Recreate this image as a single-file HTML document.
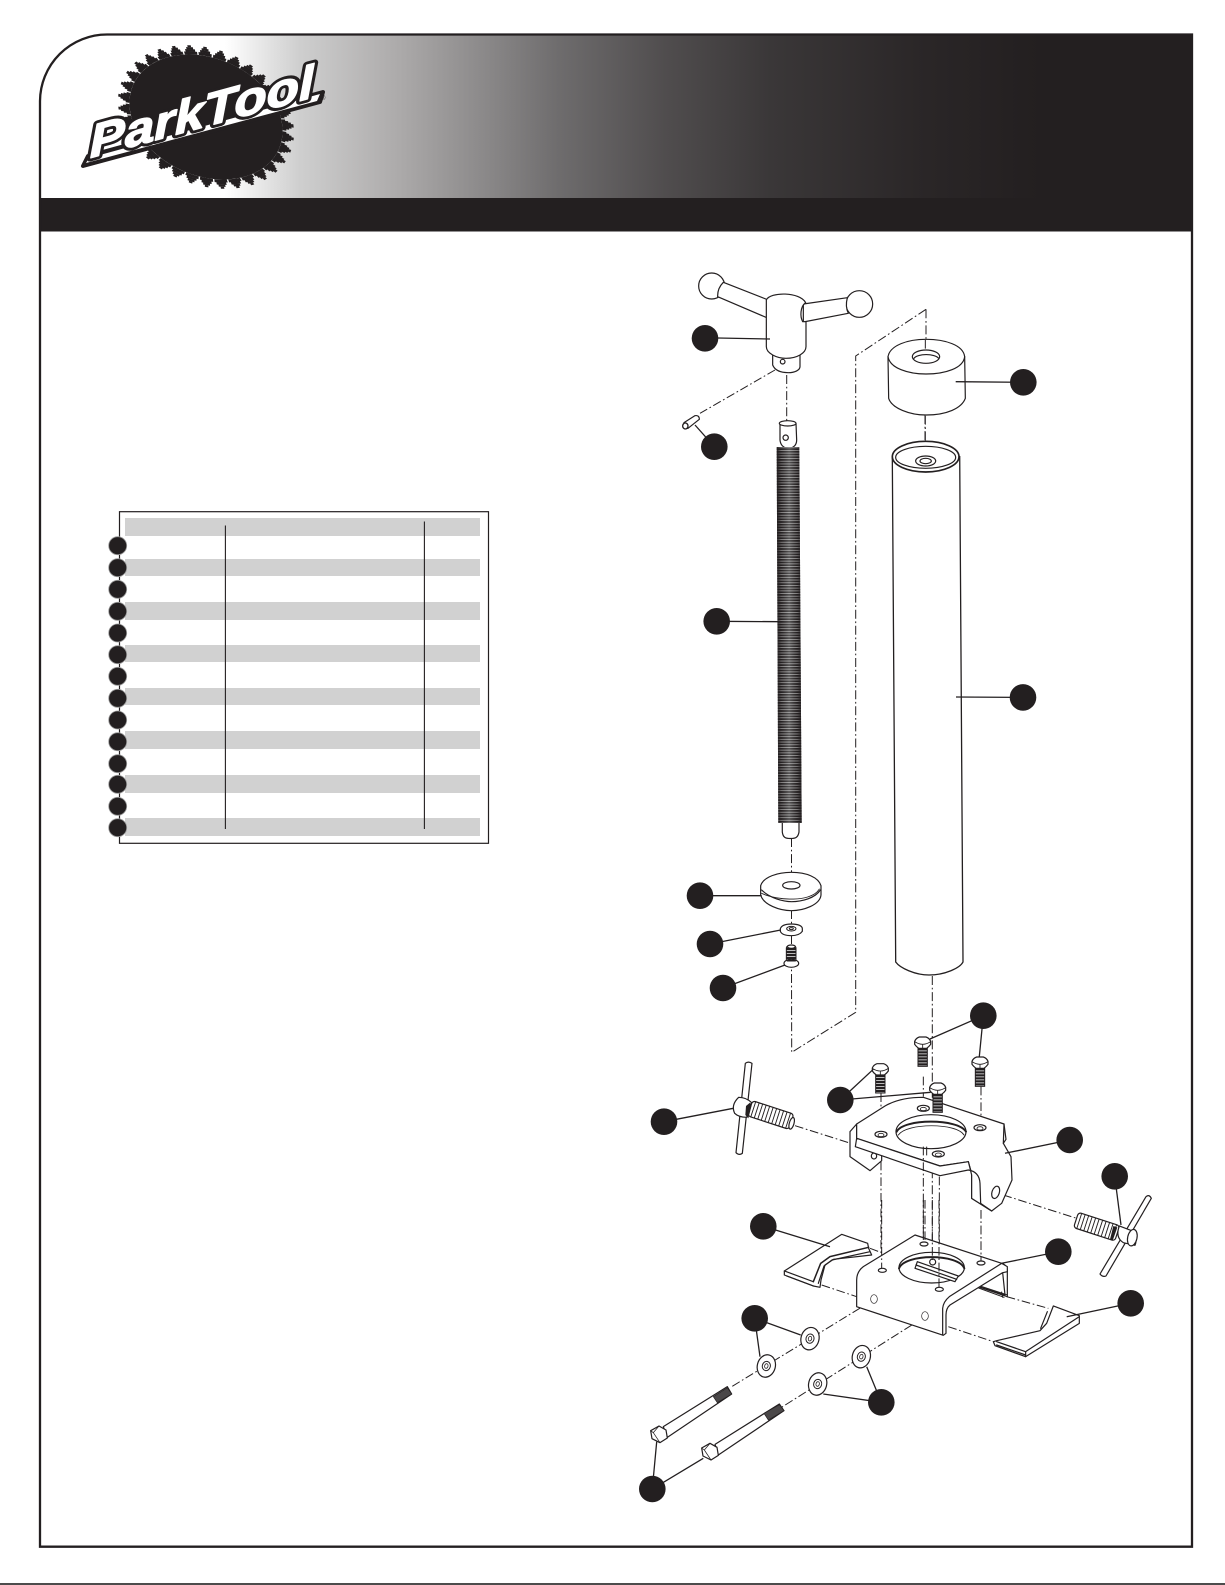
<!DOCTYPE html>
<html><head><meta charset="utf-8"><title>Park Tool exploded diagram</title>
<style>
html,body{margin:0;padding:0;background:#fff;width:1225px;height:1585px;overflow:hidden}
svg{display:block}
.o{fill:#fff;stroke:#231f20;stroke-width:3.6;stroke-linejoin:round;stroke-linecap:round}
.n{fill:none;stroke:#231f20;stroke-width:3.6;stroke-linejoin:round;stroke-linecap:round}
.d{fill:none;stroke:#231f20;stroke-width:3;stroke-dasharray:26 8 5 8}
.l{fill:none;stroke:#231f20;stroke-width:1.3}
.c{fill:#231f20}
.t{fill:url(#h);stroke:#231f20;stroke-width:3}
.lt{font-family:"Liberation Sans",sans-serif;font-weight:bold;font-style:italic;font-size:45px}
</style></head><body>
<svg xmlns="http://www.w3.org/2000/svg" width="1225" height="1585" viewBox="0 0 1225 1585">
<defs>
<linearGradient id="g" gradientUnits="userSpaceOnUse" x1="225" y1="0" x2="1040" y2="0">
<stop offset="0" stop-color="#fff"/><stop offset=".09" stop-color="#cfcfcf"/><stop offset=".21" stop-color="#adabab"/><stop offset=".41" stop-color="#6e6c6d"/><stop offset=".54" stop-color="#504d4e"/><stop offset=".67" stop-color="#3a3738"/><stop offset=".86" stop-color="#2a2627"/><stop offset="1" stop-color="#231f20"/>
</linearGradient>
<linearGradient id="e"><stop offset="0" stop-color="#231f20"/><stop offset=".18" stop-color="#231f20" stop-opacity=".55"/><stop offset=".5" stop-color="#777" stop-opacity=".6"/><stop offset=".82" stop-color="#231f20" stop-opacity=".55"/><stop offset="1" stop-color="#231f20"/></linearGradient>
<pattern id="t" patternUnits="userSpaceOnUse" width="10" height="2.7"><rect width="10" height="1.8" fill="#231f20"/><rect y="1.8" width="10" height=".9" fill="#fff"/></pattern>
<pattern id="h" patternUnits="userSpaceOnUse" width="10" height="9"><rect width="10" height="6" fill="#231f20"/><rect y="6" width="10" height="3" fill="#bbb"/></pattern>
<g id="bolt"><rect class="t" x="-14" y="14" width="28" height="58"/><path class="o" d="M-24,-3 Q-20,-13 -10,-16 H10 Q20,-13 24,-3 V6 Q20,12 12,18 H-12 Q-20,12 -24,6 Z"/><path class="n" style="stroke-width:2.6" d="M-24,-2 Q-12,6 0,6 Q12,6 24,-2 M0,6 V18"/></g>
<g id="thr"><rect class="o" x="-65" y="-24" width="130" height="48" rx="9"/><path class="n" style="stroke-width:2.8" d="M-55,-24V24M-44,-24V24M-33,-24V24M-22,-24V24M-11,-24V24M0,-24V24M11,-24V24M22,-24V24M33,-24V24M44,-24V24M55,-24V24"/></g>
<g id="w"><ellipse class="o" rx="27" ry="34" transform="rotate(15)"/><ellipse class="n" style="stroke-width:3" rx="12" ry="14" transform="rotate(15)"/><ellipse class="n" style="stroke-width:2.4" rx="5" ry="7" transform="rotate(15)"/></g>
</defs>

<!-- frame -->
<path d="M40,101 A67,67 0 0 1 107,34.5 H1192 V231.5 H40 Z" fill="url(#g)"/>
<rect x="40" y="198" width="1152" height="33.5" fill="#231f20"/>
<path d="M107,34.5 H1192 V1546.7 H40 V101 A67,67 0 0 1 107,34.5 Z" fill="none" stroke="#231f20" stroke-width="2.3"/>
<line x1="0" y1="1584" x2="1225" y2="1584" stroke="#111" stroke-width="1.4"/>

<!-- logo gear -->
<g transform="matrix(1.23,.13,.12,1,206,117)" fill="none" stroke="#231f20">
<circle r="62" fill="#231f20" stroke="none"/>
<circle r="63.5" pathLength="34" stroke-width="3" stroke-dasharray=".9 .1" stroke-dashoffset=".45"/>
<circle r="66" pathLength="34" stroke-width="2.6" stroke-dasharray=".66 .34" stroke-dashoffset=".33"/>
<circle r="68.2" pathLength="34" stroke-width="2.2" stroke-dasharray=".44 .56" stroke-dashoffset=".22"/>
<circle r="70.2" pathLength="34" stroke-width="2" stroke-dasharray=".22 .78" stroke-dashoffset=".11"/>
</g>
<polygon points="83,166 320,102 323,92 88,156" fill="#231f20" stroke="#231f20" stroke-width="4" stroke-linejoin="round"/>
<polygon points="86,163 317,101 320,94 89,158" fill="#fff"/>
<g transform="translate(90,158) rotate(-15.2) skewX(-14)">
<text class="lt" x="0" y="0" textLength="232" lengthAdjust="spacingAndGlyphs" fill="#231f20" stroke="#231f20" stroke-width="7" stroke-linejoin="round">ParkTool</text>
</g>
<g transform="translate(90,158) rotate(-15.2) skewX(-14)">
<text class="lt" x="0" y="0" textLength="232" lengthAdjust="spacingAndGlyphs" fill="#fff" stroke="#fff" stroke-width="1.4" stroke-linejoin="round">ParkTool</text>
</g>
<text x="321" y="100" font-family="'Liberation Sans',sans-serif" font-size="6" fill="#231f20">®</text>

<!-- table -->
<rect x="119.5" y="511.7" width="369" height="331.6" fill="#fff" stroke="#231f20" stroke-width="1.2"/>
<g fill="#d1d1d1">
<rect x="125" y="518" width="355" height="18"/><rect x="125" y="559" width="355" height="17"/><rect x="125" y="602" width="355" height="18"/><rect x="125" y="645" width="355" height="17"/><rect x="125" y="688" width="355" height="17"/><rect x="125" y="731" width="355" height="18"/><rect x="125" y="775" width="355" height="18"/><rect x="125" y="818" width="355" height="18"/>
</g>
<line x1="225.4" y1="525.5" x2="225.4" y2="829" stroke="#231f20" stroke-width="1.1"/>
<line x1="424.4" y1="521.5" x2="424.4" y2="829" stroke="#231f20" stroke-width="1.1"/>
<g fill="#231f20" stroke="#9a9a9a" stroke-width=".8">
<circle cx="117.7" cy="545.7" r="9"/><circle cx="117.7" cy="567.7" r="9"/><circle cx="117.7" cy="589.3" r="9"/><circle cx="117.7" cy="611.3" r="9"/><circle cx="117.7" cy="633" r="9"/><circle cx="117.7" cy="654.7" r="9"/><circle cx="117.7" cy="676.3" r="9"/><circle cx="117.7" cy="698.3" r="9"/><circle cx="117.7" cy="720" r="9"/><circle cx="117.7" cy="741.7" r="9"/><circle cx="117.7" cy="763.7" r="9"/><circle cx="117.7" cy="784.3" r="9"/><circle cx="117.7" cy="806.3" r="9"/><circle cx="117.7" cy="827.7" r="9"/>
</g>

<!-- long dash path -->
<g fill="none" stroke="#231f20" stroke-width="1" stroke-dasharray="9 2.7 1.7 2.7">
<path d="M926,309.3 L855.7,356 L855.7,1012.3 L791.7,1052.3 L791.5,968"/>
<path d="M926,309.3 V350"/><path d="M925,415 V452"/>
<path d="M932.3,976 V1280"/>
<path d="M791.5,838 V872"/><path d="M791.5,910 V925"/><path d="M791.5,936 V944"/>
<path d="M786.7,375 V423"/>
</g>

<!-- top parts: knob, pin, rod top, cap, tube top -->
<g transform="translate(660,250) scale(.33333)">
<path class="d" d="M345,360 L120,490"/>
<circle class="o" cx="155" cy="108" r="39"/>
<circle class="o" cx="598" cy="162" r="40"/>
<path class="o" d="M190,97 Q172,115 173,140 L325,205 V150 Z"/>
<path class="o" d="M430,162 L562,143 Q555,170 565,190 L430,216 Z"/>
<path class="o" d="M338,310 L338,345 C345,362 365,368 385,368 C405,368 420,360 420,350 L420,310 Z"/>
<ellipse class="o" cx="368" cy="335" rx="7" ry="7"/>
<path class="o" d="M319,150 C330,125 420,125 437,158 C420,170 420,200 428,215 L438,215 L438,290 C438,310 410,325 378,325 C350,325 319,310 319,290 Z"/>
<path class="o" d="M72,518 L105,497 Q118,495 118,508 L84,535 Q68,538 72,518 Z"/>
<ellipse class="o" cx="76" cy="528" rx="8" ry="9" style="stroke-width:4"/>
<path class="o" d="M360,520 L360,570 Q362,592 385,596 Q410,592 410,570 L408,520 Z"/>
<ellipse class="o" cx="383" cy="520" rx="25" ry="8"/>
<circle class="o" cx="377" cy="563" r="8"/>
<!-- cap -->
<path class="o" d="M684,320 C690,285 745,268 798,268 C855,268 910,285 914,320 L916,445 C905,475 860,495 798,495 C750,495 695,475 686,445 Z"/>
<path class="n" d="M684,320 C690,355 745,372 798,372 C855,372 910,355 914,320"/>
<ellipse class="o" cx="798" cy="320" rx="41" ry="20"/>
<path class="n" d="M762,325 C772,310 825,310 836,325"/>
<path class="d" d="M796,270 V302 M796,498 V598"/>
<!-- tube top ring -->
<ellipse class="o" cx="797" cy="620" rx="100" ry="46" style="stroke-width:5"/>
<ellipse class="n" cx="797" cy="622" rx="90" ry="33"/>
<ellipse class="o" cx="797" cy="633" rx="30" ry="15"/>
<ellipse class="n" cx="797" cy="633" rx="17" ry="8"/>
</g>
<path d="M892.3,456 L895.7,962 C900,968 915,975 929,975 C945,975 960,968 963,962 L959.7,456" fill="none" stroke="#231f20" stroke-width="1.3"/>

<!-- threaded rod -->
<polygon points="776.7,447 799.3,447 801.7,823 778.3,823" fill="url(#t)"/>
<polygon points="776.7,447 799.3,447 801.7,823 778.3,823" fill="url(#e)"/>
<path d="M782.3,823 V832 C783,838 786,838.5 790.5,838.5 C795,838.5 798,838 799,832 V823" fill="#fff" stroke="#231f20" stroke-width="1.2"/>

<!-- spacer, washer, screw -->
<g transform="translate(670,840) scale(.33333)">
<path class="o" d="M272,137 C280,110 325,97 364,97 C410,97 445,112 453,137 L453,165 C450,195 400,212 364,212 C330,212 280,195 272,165 Z"/>
<path class="n" d="M275,150 C300,175 340,185 365,185 C395,185 435,175 451,150"/>
<path class="n" d="M275,160 C300,172 340,178 365,177 C395,178 435,170 448,147" style="stroke-width:2.5"/>
<ellipse class="o" cx="364" cy="136" rx="26" ry="11"/>
<path class="o" d="M331,266 C335,255 350,252 364,252 C385,252 397,258 397,266 L397,274 C390,284 378,287 364,287 C350,287 335,284 331,274 Z"/>
<ellipse class="n" cx="364" cy="266" rx="14" ry="7" style="stroke-width:3"/>
<ellipse class="n" cx="364" cy="266" rx="6" ry="3" style="stroke-width:3"/>
<rect class="t" x="349" y="318" width="29" height="52" rx="6"/>
<ellipse class="o" cx="364" cy="370" rx="22" ry="12"/>
<ellipse class="o" cx="364" cy="320" rx="12" ry="5"/>
<path class="n" d="M352,362 H376" style="stroke-width:5"/>
</g>

<!-- upper bracket assembly -->
<g transform="translate(640,980) scale(.33333)">
<path class="d" d="M465,437 L632,490 M1090,645 L1310,715"/>
<path class="d" d="M850,290 V350 M723,340 V450 M1023,320 V435 M850,400 V500 M898,395 V500"/>
<!-- left T -->
<path class="o" d="M316,250 Q325,243 336,250 L307,520 Q297,527 288,518 Z"/>
<path class="o" d="M296,352 Q318,352 335,368 L320,412 Q296,412 284,400 Q272,375 296,352 Z"/>
<use href="#thr" transform="translate(392,405) rotate(18)"/>
<path d="M318,378 L330,368 L335,376 L325,415 L316,405 Z" fill="#231f20"/>
<ellipse class="o" cx="455" cy="430" rx="7" ry="18" transform="rotate(16 455 430)"/>
<!-- bracket -->
<path class="o" d="M650,432 L630,455 L630,530 L690,572 L725,542 L725,510 L650,475 Z"/>
<ellipse class="o" cx="702" cy="528" rx="8" ry="9"/>
<path class="o" d="M650,432 L735,378 Q780,352 850,352 L1092,432 L1098,478 L1090,490 L1113,530 L1116,600 L1085,670 L1055,693 L995,655 L995,580 L985,545 L900,558 L650,475 Z"/>
<path class="o" d="M650,475 L646,500 L900,587 L985,570 Q1018,575 1020,610 L1022,670 L1055,693 L995,655 L995,585 L985,545 L900,558 Z"/>
<path class="n" d="M1090,490 L1092,432"/>
<ellipse class="o" cx="873" cy="455" rx="105" ry="51"/>
<path class="n" d="M770,455 C790,415 955,415 978,455" style="stroke-width:6"/>
<path class="n" d="M775,465 C800,428 950,428 972,465" style="stroke-width:2.5"/>
<ellipse class="o" cx="850" cy="385" rx="18" ry="9"/><ellipse class="n" cx="850" cy="387" rx="9" ry="5" style="stroke-width:2.5"/>
<ellipse class="o" cx="723" cy="463" rx="18" ry="9"/><ellipse class="n" cx="723" cy="465" rx="9" ry="5" style="stroke-width:2.5"/>
<ellipse class="o" cx="1020" cy="443" rx="18" ry="9"/><ellipse class="n" cx="1020" cy="445" rx="9" ry="5" style="stroke-width:2.5"/>
<ellipse class="o" cx="895" cy="522" rx="18" ry="9"/><ellipse class="n" cx="895" cy="524" rx="9" ry="5" style="stroke-width:2.5"/>
<ellipse class="o" cx="1067" cy="637" rx="11" ry="19" transform="rotate(18 1067 637)"/>
<path class="d" d="M850,500 V830 M860,500 V530 M898,590 V900 M723,545 V870 M1023,690 V850"/>
<!-- bolts -->
<use href="#bolt" transform="translate(848,187)"/>
<use href="#bolt" transform="translate(721,267)"/>
<use href="#bolt" transform="translate(893,325)"/>
<use href="#bolt" transform="translate(1020,247)"/>
<!-- right T -->
<path class="o" d="M1518,650 Q1528,642 1534,655 L1398,888 Q1388,892 1380,882 Z"/>
<use href="#thr" transform="translate(1370,740) rotate(18)"/>
<path d="M1420,738 L1432,742 L1418,782 L1410,778 Z" fill="#231f20"/>
<path class="o" d="M1438,738 L1475,752 Q1495,770 1485,796 L1450,788 Q1425,772 1438,738 Z"/>
<ellipse class="o" cx="1477" cy="773" rx="14" ry="25" transform="rotate(12 1477 773)"/>
</g>

<!-- base assembly -->
<g transform="translate(630,1200) scale(.33333)">
<path class="d" d="M720,145 L755,158 M575,255 L680,290 M1130,290 L1255,325 M955,380 L1090,425"/>
<path class="d" d="M730,300 L305,560 M885,350 L450,625"/>
<!-- left clamp -->
<path class="o" d="M463,213 L635,103 L713,130 L716,145 L725,165 L610,178 L585,195 L573,240 L570,262 L550,258 L463,225 Z"/>
<path class="n" style="stroke-width:4.5" d="M716,142 L600,170 L572,190 L550,245"/>
<path class="n" d="M720,155 L606,180 L582,198 L565,250"/>
<path class="n" d="M463,213 L550,245 M470,228 L550,258"/>
<!-- base -->
<path class="o" d="M1132,215 Q1132,195 1115,190 L1132,210 L1132,290 L1050,262 L1050,200 Z"/>
<path class="o" d="M1118,218 L1125,285 L1040,258 Z"/>
<path class="n" d="M1050,258 L1130,284 M1046,264 L1122,292 M1115,276 L1118,292" style="stroke-width:3"/>
<path class="o" d="M855,105 L1115,190 L1132,200 L1132,215 L1118,218 L960,315 Q948,325 948,345 L948,400 L940,406 L680,320 L680,240 Q680,215 700,200 Z"/>
<path class="n" d="M1115,190 L958,290 Q940,305 938,325 L938,405"/>
<ellipse class="o" cx="905" cy="203" rx="98" ry="46"/>
<path class="n" d="M807,205 C825,160 985,160 1003,205" style="stroke-width:6"/>
<path class="o" d="M862,185 L855,205 L975,245 L985,228 Z"/>
<path class="n" d="M858,195 L980,238"/>
<circle class="o" cx="908" cy="186" r="9"/>
<ellipse class="o" cx="882" cy="132" rx="12" ry="6"/><ellipse class="o" cx="757" cy="211" rx="12" ry="6"/><ellipse class="o" cx="1053" cy="189" rx="12" ry="6"/><ellipse class="o" cx="928" cy="268" rx="12" ry="6"/>
<ellipse class="o" cx="732" cy="297" rx="10" ry="13" style="stroke-width:2"/><ellipse class="o" cx="885" cy="348" rx="10" ry="13" style="stroke-width:2"/>
<path class="d" d="M880,0 V128 M885,0 V128 M907,0 V180 M927,0 V262 M755,0 V205 M1053,30 V182"/>
<!-- right clamp -->
<path class="o" d="M1270,318 L1348,347 L1348,370 L1187,470 L1095,437 L1090,425 L1100,422 L1230,392 L1250,370 Z"/>
<path class="n" d="M1100,425 L1187,455 L1348,350 M1100,435 L1187,465 M1187,455 V470 M1252,335 L1232,385"/>
<!-- washers -->
<use href="#w" transform="translate(540,416)"/>
<use href="#w" transform="translate(409,498)"/>
<use href="#w" transform="translate(694,470)"/>
<use href="#w" transform="translate(563,552)"/>
<!-- long bolts -->
<path class="o" d="M100,680 L292,560 L305,582 L112,712 Z"/>
<path d="M250,590 L292,563 L305,582 L262,608 Z" fill="#4a4748" stroke="#231f20" stroke-width="2"/>
<path class="o" d="M87,678 L108,690 L112,714 L90,728 L66,716 L62,692 Z"/>
<path class="n" d="M87,678 L70,698 L90,728 M70,698 L62,692" style="stroke-width:2.2"/>
<path class="o" d="M255,733 L448,612 L462,632 L265,765 Z"/>
<path d="M402,640 L448,614 L462,632 L415,660 Z" fill="#4a4748" stroke="#231f20" stroke-width="2"/>
<path class="o" d="M240,730 L261,742 L265,766 L243,780 L219,768 L215,744 Z"/>
<path class="n" d="M240,730 L223,750 L243,780 M223,750 L215,744" style="stroke-width:2.2"/>
</g>

<!-- leaders -->
<g class="l">
<path d="M718,338 L770,339"/><path d="M714.3,446.7 L695,425"/>
<path d="M1023,382.3 L955.7,381.7"/><path d="M716.7,621.3 L780,621.7"/><path d="M1023,697.4 L956,697"/>
<path d="M700,895.7 L761.7,895.7"/><path d="M710,944 L780.7,930"/><path d="M723,988 L785,965"/>
<path d="M930,1039 L983.3,1015.7 L979.3,1056.7"/><path d="M873.3,1069.3 L840.3,1100 L930.7,1092.3"/>
<path d="M664,1121.7 L733.3,1108.3"/><path d="M1069.7,1140 L1005,1153.3"/><path d="M1114.7,1176.3 L1121,1225"/>
<path d="M763.3,1226.3 L830,1246.7"/><path d="M1058.3,1251.7 L1001.7,1263.3"/><path d="M1130.7,1303.3 L1066.7,1316.7"/>
<path d="M800.7,1335 L754.7,1318.3 L760,1356.7"/><path d="M866.7,1366.7 L881.3,1402.3 L823.3,1394"/>
<path d="M656.7,1441.7 L652.3,1489 L703.3,1458.3"/>
</g>
<!-- callouts -->
<g class="c">
<circle cx="705" cy="338.3" r="13.3"/><circle cx="714.3" cy="446.7" r="13.3"/><circle cx="1023.3" cy="382.3" r="13.3"/><circle cx="716.7" cy="621.3" r="13.3"/><circle cx="1023" cy="697.4" r="13.3"/><circle cx="700" cy="895.7" r="13.3"/><circle cx="710" cy="944" r="13.3"/><circle cx="723" cy="988" r="13.3"/><circle cx="983.3" cy="1015.7" r="13.3"/><circle cx="840.3" cy="1100" r="13.3"/><circle cx="664" cy="1121.7" r="13.3"/><circle cx="1069.7" cy="1140" r="13.3"/><circle cx="1114.7" cy="1176.3" r="13.3"/><circle cx="763.3" cy="1226.3" r="13.3"/><circle cx="1058.3" cy="1251.7" r="13.3"/><circle cx="1130.7" cy="1303.3" r="13.3"/><circle cx="754.7" cy="1318.3" r="13.3"/><circle cx="881.3" cy="1402.3" r="13.3"/><circle cx="652.3" cy="1489" r="13.3"/>
</g>
</svg>
</body></html>
